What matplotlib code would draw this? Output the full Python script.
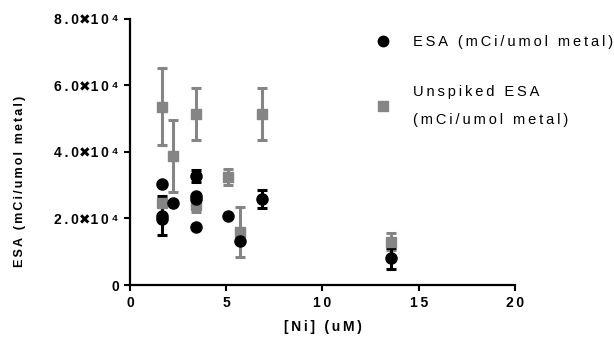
import matplotlib
matplotlib.use("Agg")
import matplotlib.pyplot as plt
from matplotlib.lines import Line2D
import numpy as np

# ESA (mCi/umol metal) -- black circles (nan = no error bar)
esa_x = [1.68, 1.68, 1.68, 2.25, 3.41, 3.41, 3.41, 3.41, 5.11, 5.71, 6.84, 13.56]
esa_y = [30300, 20800, 19800, 24800, 32800, 26900, 25900, 17500, 20800, 13200, 25800, 8000]
esa_err = [np.nan, 5900, np.nan, np.nan, 1700, np.nan, np.nan, np.nan, np.nan, np.nan, 2700, 3200]

# Unspiked ESA (mCi/umol metal) -- grey squares
uns_x = [1.68, 1.68, 2.25, 3.41, 3.41, 5.11, 5.71, 6.84, 13.56]
uns_y = [53600, 24800, 38800, 51400, 24200, 32400, 16000, 51400, 13000]
uns_err = [11600, np.nan, 10800, 7700, 2300, 2400, 7500, 7700, 2500]

yticks = [0, 20000, 40000, 60000, 80000]
ymant = ["", "2.0", "4.0", "6.0", "8.0"]
xticks = [0, 5, 10, 15, 20]

FONT = ["Liberation Sans", "DejaVu Sans"]
plt.rcParams["font.family"] = FONT
GREY = "#858585"
TS = "\u2009"  # thin space, mimics the letter-spaced GraphPad text
SS = "\u2006"  # narrower one for the y label


def spaced(s, sep=TS):
    return sep.join(s)


def ylab(m):
    if not m:
        return "0"
    return spaced(m) + "\u2716" + spaced("10") + TS + "\u2074"


fig = plt.figure(figsize=(6.14, 3.46), dpi=100)
ax = fig.add_axes([0.2117, 0.1763, 0.627, 0.769])

ax.errorbar(uns_x, uns_y, yerr=uns_err, fmt="s", color=GREY, ms=7.8, mec=GREY,
            elinewidth=2.2, capsize=3.8, capthick=2.2)
ax.errorbar(esa_x, esa_y, yerr=esa_err, fmt="o", color="black", ms=8, mec="black",
            elinewidth=2.2, capsize=3.8, capthick=2.2)

ax.set_xlim(0, 20)
ax.set_ylim(0, 80000)
ax.set_xticks(xticks)
ax.set_xticklabels([spaced(str(t)) for t in xticks], fontsize=10, fontweight="bold")
ax.set_yticks(yticks)
ax.set_yticklabels([ylab(m) for m in ymant], fontsize=10, fontweight="bold")
ax.tick_params(direction="out", length=4.5, width=1.5, pad=3.5)
for s in ["top", "right"]:
    ax.spines[s].set_visible(False)
for s in ["left", "bottom"]:
    ax.spines[s].set_linewidth(1.6)

ax.set_xlabel(spaced("[Ni] (uM)"), fontsize=10, fontweight="bold", labelpad=7)
ax.set_ylabel(spaced("ESA (mCi/umol metal)", SS), fontsize=9, fontweight="bold")
ax.yaxis.set_label_coords(-0.27, 0.39)

handles = [
    Line2D([], [], ls="none", marker="o", color="black", ms=7.5),
    Line2D([], [], ls="none", marker="s", color=GREY, ms=7.5),
]
labels = [spaced("ESA (mCi/umol metal)"),
          spaced("Unspiked ESA") + "\n" + spaced("(mCi/umol metal)")]
leg = ax.legend(handles, labels, loc="upper left", bbox_to_anchor=(0.59, 0.937),
                bbox_transform=fig.transFigure, frameon=False, fontsize=10.5,
                handletextpad=1.6, labelspacing=2.47, handlelength=1.0)
for t in leg.get_texts():
    t.set_linespacing(2.3)

fig.savefig("out.png", dpi=100)
